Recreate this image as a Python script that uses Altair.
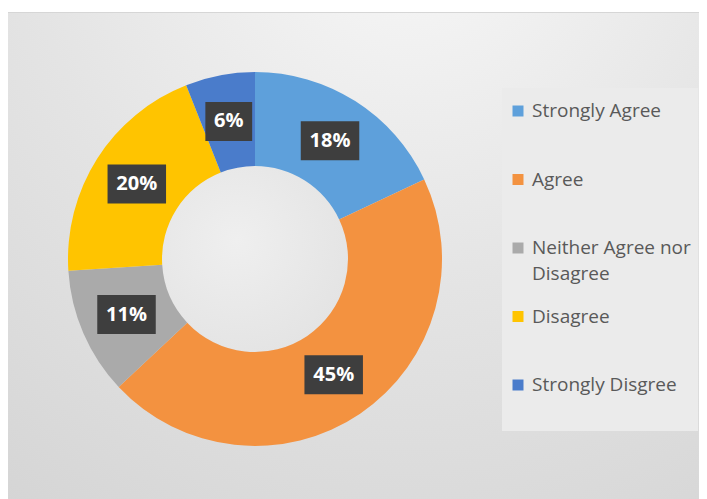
import altair as alt
import pandas as pd

categories = ["Strongly Agree", "Agree", "Neither Agree nor Disagree", "Disagree", "Strongly Disgree"]
values = [18, 45, 11, 20, 6]
pct_labels = ["18%", "45%", "11%", "20%", "6%"]
legend_labels = ["Strongly Agree", "Agree", "Neither Agree nor|Disagree", "Disagree", "Strongly Disgree"]
colors = ["#5EA0DB", "#F39240", "#AAAAAA", "#FFC400", "#4A7CCB"]

df = pd.DataFrame({
    "category": categories,
    "value": values,
    "label": pct_labels,
    "legend": legend_labels,
    "idx": list(range(len(categories))),
})
one = pd.DataFrame({"a": [1]})

W, H = 691, 491
CX, CY = 247, 251
R_OUT, R_IN = 187, 93
R_LAB = (R_OUT + R_IN) / 2

color = alt.Color("category:N", scale=alt.Scale(domain=categories, range=colors), legend=None)

bg_grad = alt.RadialGradient(
    gradient="radial",
    x1=0.58, y1=0.0, r1=0.0, x2=0.58, y2=0.0, r2=1.1,
    stops=[
        alt.GradientStop(offset=0, color="#f8f8f8"),
        alt.GradientStop(offset=0.5, color="#e4e4e4"),
        alt.GradientStop(offset=1, color="#d3d3d3"),
    ],
)
hole_grad = alt.RadialGradient(
    gradient="radial",
    x1=0.4, y1=0.4, r1=0.0, x2=0.4, y2=0.4, r2=0.75,
    stops=[
        alt.GradientStop(offset=0, color="#efefef"),
        alt.GradientStop(offset=1, color="#e2e2e2"),
    ],
)

bg = alt.Chart(one).mark_rect(fill=bg_grad).encode(
    x=alt.value(-1), x2=alt.value(W), y=alt.value(4), y2=alt.value(H)
)
topline = alt.Chart(one).mark_rule(color="#d6d6d6", strokeWidth=1).encode(
    x=alt.value(-1), x2=alt.value(W), y=alt.value(4.5)
)
legbox = alt.Chart(one).mark_rect(fill="#ebebeb").encode(
    x=alt.value(494), x2=alt.value(W - 1), y=alt.value(80), y2=alt.value(423)
)
hole = alt.Chart(one).mark_point(shape="circle", filled=True, opacity=1, fill=hole_grad,
                                 strokeWidth=0, size=(2 * R_IN) ** 2).encode(
    x=alt.value(CX), y=alt.value(CY)
)

base = alt.Chart(df)

arcs = base.mark_arc(x=CX, y=CY, radius=R_OUT, radius2=R_IN).encode(
    theta=alt.Theta("value:Q", stack=True),
    color=color,
    order=alt.Order("idx:Q"),
)

pos = base.transform_joinaggregate(total="sum(value)").transform_window(
    cum="sum(value)", sort=[alt.SortField("idx")], frame=[None, 0]
).transform_calculate(
    mid="(datum.cum - datum.value / 2) / datum.total * 2 * PI",
    px=f"{R_LAB / R_OUT} * sin(datum.mid)",
    py=f"{R_LAB / R_OUT} * cos(datum.mid)",
    box="length(datum.label) > 2 ? 'wide' : 'narrow'",
)
xs = alt.X("px:Q", scale=alt.Scale(domain=[-1, 1], range=[CX - R_OUT, CX + R_OUT], nice=False), axis=None)
ys = alt.Y("py:Q", scale=alt.Scale(domain=[-1, 1], range=[CY + R_OUT, CY - R_OUT], nice=False), axis=None)

WIDE = "M-1.5,-1L1.5,-1L1.5,1L-1.5,1Z"
NARROW = "M-1.2,-1L1.2,-1L1.2,1L-1.2,1Z"

boxes = pos.mark_point(filled=True, opacity=1, color="#3e3e3e", strokeWidth=0, size=1521).encode(
    x=xs, y=ys,
    shape=alt.Shape("box:N", scale=alt.Scale(domain=["narrow", "wide"], range=[NARROW, WIDE]), legend=None),
)
texts = pos.mark_text(font="Open Sans", fontWeight="bold", fontSize=20, color="#ffffff",
                      align="center", baseline="middle").encode(x=xs, y=ys, text="label:N")

ly = alt.Y("category:N", scale=alt.Scale(domain=categories, range=[103, 377], padding=0), axis=None)
lsq = base.mark_square(size=121, opacity=1).encode(x=alt.value(510), y=ly, color=color)
ltxt = base.mark_text(align="left", baseline="alphabetic", dy=6, lineBreak="|", lineHeight=26,
                      font="Open Sans", fontSize=19, color="#595959").encode(
    x=alt.value(524), y=ly, text="legend:N"
)

chart = alt.layer(bg, topline, legbox, hole, arcs, boxes, texts, lsq, ltxt).resolve_scale(
    x="independent", y="independent", shape="independent"
).properties(
    width=W, height=H, autosize=alt.AutoSizeParams(type="none"), padding=0, background="#ffffff"
).configure_view(stroke=None)

chart.save("out.html", embed_options={"renderer": "svg", "actions": False})
